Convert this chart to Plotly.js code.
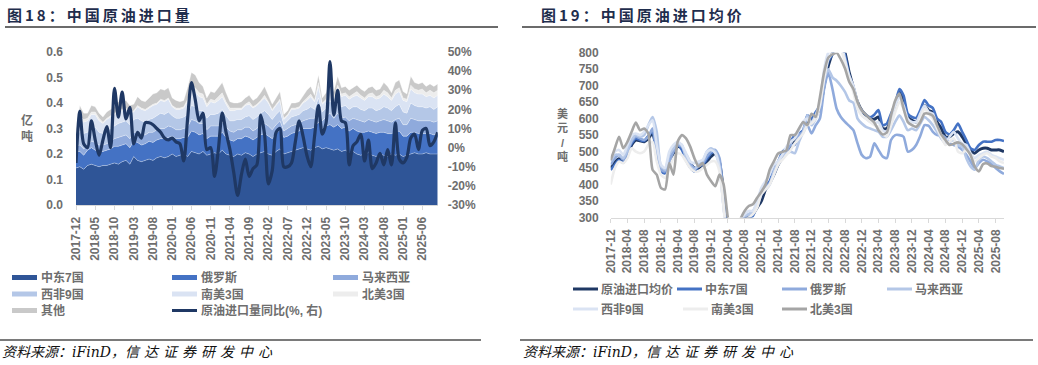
<!DOCTYPE html>
<html><head><meta charset="utf-8">
<script src="https://cdn.plot.ly/plotly-3.0.1.min.js"></script>
<style>html,body{margin:0;padding:0;background:#fff;}#chart{width:1038px;height:365px;}</style>
</head><body><div id="chart"></div>
<script>
const months = ['2017-12',
'2018-01','2018-02','2018-03','2018-04','2018-05','2018-06','2018-07','2018-08','2018-09','2018-10','2018-11','2018-12',
'2019-01','2019-02','2019-03','2019-04','2019-05','2019-06','2019-07','2019-08','2019-09','2019-10','2019-11','2019-12',
'2020-01','2020-02','2020-03','2020-04','2020-05','2020-06','2020-07','2020-08','2020-09','2020-10','2020-11','2020-12',
'2021-01','2021-02','2021-03','2021-04','2021-05','2021-06','2021-07','2021-08','2021-09','2021-10','2021-11','2021-12',
'2022-01','2022-02','2022-03','2022-04','2022-05','2022-06','2022-07','2022-08','2022-09','2022-10','2022-11','2022-12',
'2023-01','2023-02','2023-03','2023-04','2023-05','2023-06','2023-07','2023-08','2023-09','2023-10','2023-11','2023-12',
'2024-01','2024-02','2024-03','2024-04','2024-05','2024-06','2024-07','2024-08','2024-09','2024-10','2024-11','2024-12',
'2025-01','2025-02','2025-03','2025-04','2025-05','2025-06','2025-07','2025-08','2025-09','2025-10'];

const leftTicks = ['2017-12','2018-05','2018-10','2019-03','2019-08','2020-01','2020-06','2020-11','2021-04','2021-09','2022-02','2022-07','2022-12','2023-05','2023-10','2024-03','2024-08','2025-01','2025-06'];
const rightTicks = ['2017-12','2018-04','2018-08','2018-12','2019-04','2019-08','2019-12','2020-04','2020-08','2020-12','2021-04','2021-08','2021-12','2022-04','2022-08','2022-12','2023-04','2023-08','2023-12','2024-04','2024-08','2024-12','2025-04','2025-08'];

// ---- Figure 18: import volume (亿吨), stacked by origin ----
const volMiddleEast = [0.145,0.15,0.14,0.155,0.16,0.155,0.15,0.155,0.155,0.16,
0.165,0.16,0.17,0.175,0.16,0.19,0.175,0.17,0.175,0.18,
0.175,0.185,0.19,0.185,0.19,0.2,0.19,0.195,0.2,0.19,
0.21,0.205,0.2,0.21,0.195,0.2,0.205,0.2,0.215,0.2,
0.195,0.19,0.2,0.195,0.205,0.2,0.19,0.2,0.205,0.21,
0.2,0.195,0.21,0.22,0.2,0.205,0.21,0.215,0.22,0.225,
0.22,0.215,0.225,0.23,0.22,0.225,0.22,0.215,0.22,0.21,
0.215,0.205,0.21,0.2,0.195,0.2,0.205,0.195,0.19,0.2,
0.195,0.19,0.2,0.195,0.2,0.19,0.195,0.2,0.205,0.2,
0.2,0.205,0.2,0.2,0.2];
const volRussia = [0.065,0.06,0.055,0.06,0.065,0.06,0.06,0.055,0.06,0.06,
0.065,0.07,0.065,0.065,0.065,0.06,0.07,0.065,0.065,0.07,
0.07,0.07,0.07,0.075,0.075,0.07,0.07,0.065,0.065,0.075,
0.08,0.08,0.075,0.07,0.065,0.07,0.065,0.07,0.07,0.065,
0.06,0.06,0.06,0.065,0.065,0.065,0.065,0.065,0.07,0.07,
0.07,0.065,0.07,0.075,0.065,0.065,0.07,0.07,0.07,0.075,
0.08,0.085,0.08,0.095,0.08,0.085,0.095,0.09,0.095,0.09,
0.09,0.085,0.09,0.09,0.09,0.085,0.085,0.09,0.09,0.085,
0.09,0.09,0.08,0.09,0.09,0.08,0.075,0.085,0.08,0.08,
0.08,0.075,0.08,0.075,0.08];
const volMalaysia = [0.02,0.025,0.025,0.02,0.025,0.03,0.025,0.025,0.025,0.03,
0.03,0.035,0.035,0.035,0.035,0.035,0.04,0.04,0.035,0.035,
0.04,0.04,0.04,0.04,0.045,0.035,0.035,0.035,0.035,0.04,
0.045,0.045,0.045,0.04,0.035,0.04,0.04,0.04,0.04,0.04,
0.035,0.035,0.035,0.035,0.035,0.04,0.035,0.035,0.04,0.04,
0.04,0.035,0.035,0.035,0.025,0.03,0.03,0.03,0.03,0.03,
0.035,0.04,0.035,0.045,0.03,0.035,0.045,0.035,0.045,0.04,
0.04,0.04,0.04,0.045,0.045,0.04,0.045,0.045,0.045,0.045,
0.05,0.05,0.045,0.05,0.05,0.045,0.045,0.055,0.05,0.05,
0.05,0.05,0.05,0.05,0.05];
const volWestAfrica = [0.025,0.055,0.06,0.05,0.055,0.06,0.05,0.045,0.05,0.05,
0.05,0.055,0.055,0.055,0.055,0.05,0.055,0.055,0.05,0.05,
0.055,0.055,0.06,0.055,0.055,0.045,0.045,0.045,0.045,0.05,
0.055,0.055,0.05,0.05,0.045,0.045,0.045,0.05,0.05,0.045,
0.04,0.045,0.04,0.04,0.04,0.045,0.045,0.045,0.045,0.05,
0.045,0.04,0.04,0.04,0.025,0.03,0.035,0.035,0.035,0.04,
0.04,0.045,0.035,0.05,0.035,0.035,0.05,0.04,0.05,0.045,
0.045,0.045,0.045,0.05,0.045,0.045,0.045,0.05,0.045,0.045,
0.05,0.05,0.045,0.05,0.055,0.05,0.045,0.06,0.055,0.055,
0.055,0.05,0.055,0.05,0.055];
const volSouthAmerica = [0.015,0.05,0.045,0.045,0.05,0.05,0.045,0.04,0.045,0.045,
0.045,0.05,0.045,0.045,0.045,0.03,0.045,0.045,0.045,0.045,
0.05,0.045,0.05,0.05,0.05,0.035,0.035,0.035,0.035,0.05,
0.06,0.06,0.055,0.05,0.045,0.05,0.045,0.05,0.05,0.045,
0.04,0.04,0.04,0.04,0.045,0.045,0.045,0.045,0.045,0.05,
0.045,0.035,0.035,0.04,0.02,0.02,0.03,0.025,0.025,0.03,
0.035,0.04,0.03,0.045,0.03,0.03,0.045,0.035,0.045,0.04,
0.04,0.04,0.04,0.045,0.045,0.04,0.045,0.045,0.045,0.045,
0.05,0.045,0.04,0.05,0.05,0.045,0.045,0.055,0.05,0.05,
0.05,0.045,0.045,0.045,0.045];
const volNorthAmerica = [0.005,0.01,0.01,0.01,0.01,0.01,0.01,0.005,0.005,0.005,
0.005,0.005,0.005,0.005,0.005,0.005,0.005,0.005,0.005,0.005,
0.005,0.005,0.005,0.005,0.005,0.005,0.005,0.005,0.005,0.01,
0.015,0.015,0.015,0.015,0.01,0.01,0.01,0.015,0.015,0.01,
0.01,0.01,0.005,0.005,0.005,0.01,0.005,0.005,0.005,0.01,
0.005,0.005,0.005,0.005,0.005,0.005,0.005,0.005,0.005,0.005,
0.01,0.01,0.005,0.015,0.005,0.005,0.015,0.005,0.015,0.01,
0.01,0.01,0.01,0.015,0.01,0.01,0.01,0.015,0.01,0.01,
0.015,0.015,0.01,0.015,0.015,0.01,0.01,0.015,0.015,0.015,
0.02,0.015,0.02,0.02,0.02];
const volOther = [0.005,0.04,0.025,0.02,0.025,0.02,0.02,0.02,0.025,0.025,
0.025,0.03,0.03,0.03,0.025,0.025,0.035,0.03,0.03,0.035,
0.04,0.04,0.04,0.04,0.04,0.03,0.03,0.025,0.025,0.045,
0.055,0.05,0.04,0.03,0.025,0.03,0.03,0.035,0.04,0.035,
0.025,0.02,0.02,0.025,0.025,0.025,0.025,0.025,0.03,0.035,
0.025,0.02,0.025,0.03,0.015,0.015,0.02,0.02,0.02,0.025,
0.03,0.03,0.02,0.03,0.02,0.025,0.03,0.025,0.035,0.025,
0.025,0.025,0.025,0.025,0.025,0.025,0.025,0.025,0.025,0.025,
0.03,0.025,0.02,0.03,0.03,0.025,0.02,0.035,0.025,0.025,
0.025,0.025,0.025,0.025,0.025];
const volYoY = [-8,19,2,0,14,4,-4,4,11,0,
31,16,29,15,21,2,8,5,13,13,
12,10,8,5,4,5,3,2,-7,15,
34,25,14,18,-1,0,-15,-1,18,8,
-1,-13,-25,-14,-6,-15,-11,-9,17,7,
-19,-12,8,10,-10,-10,-8,3,14,6,
-4,-10,6,22,7,13,45,17,30,14,
13,-9,1,3,7,-7,4,-11,-8,-3,
-9,-1,-9,13,-6,-8,-5,5,7,-1,
9,10,1,3,8];

// ---- Figure 19: average import price (美元/吨) ----
const priceAvg = [450,468,478,470,492,520,535,533,530,540,
556,500,448,436,465,495,515,512,490,465,
450,450,458,470,485,495,468,375,265,225,
235,280,298,300,310,330,350,385,405,430,
460,480,495,510,530,545,560,585,590,610,
630,700,760,800,840,835,800,740,695,650,
625,610,600,598,605,570,570,600,640,680,
655,605,595,590,612,640,625,620,590,570,
545,545,555,560,545,525,505,495,505,510,
510,505,505,505,500];
const priceMiddleEast = [444,460,474,466,499,525,540,535,532,548,
560,480,440,434,470,505,520,505,475,452,
440,455,460,478,495,500,470,360,250,220,
235,270,290,295,305,340,378,395,410,450,
469,499,510,530,550,555,565,610,600,620,
641,715,775,795,830,820,792,730,695,645,
625,612,604,612,626,580,585,615,645,690,
670,615,605,602,626,656,640,632,600,590,
560,552,565,585,560,535,510,505,520,530,
530,530,535,535,532];
const priceRussia = [460,480,490,475,500,530,545,540,535,545,
570,500,445,440,470,500,520,515,490,465,
450,455,465,485,500,505,480,350,240,220,
240,280,300,310,315,335,370,390,405,430,
460,480,500,520,520,550,560,580,555,580,
600,690,740,690,630,605,590,578,565,525,
490,480,485,525,505,485,480,535,550,550,
545,500,505,520,548,580,578,560,550,550,
542,525,520,515,505,490,470,450,465,475,
470,462,450,440,432];
const priceMalaysia = [470,490,490,480,505,535,550,545,550,580,
605,560,455,445,490,510,525,520,480,455,
445,460,470,500,510,500,455,330,230,210,
230,275,305,310,320,345,380,385,400,440,
470,490,495,500,495,530,560,610,580,600,
640,720,750,725,715,700,681,655,648,600,
585,575,570,565,560,545,545,565,590,610,
590,565,570,565,585,605,595,580,560,540,
525,530,535,520,515,480,455,445,475,485,
480,470,460,455,450];
const priceWestAfrica = [480,500,505,490,520,550,555,550,560,580,
595,520,460,450,500,520,530,520,495,470,
465,470,475,500,505,495,450,330,230,200,
240,290,310,320,320,350,390,410,430,460,
470,490,515,530,540,565,590,600,590,610,
650,750,800,810,840,830,780,730,700,650,
610,600,590,585,590,565,560,600,640,665,
640,600,590,590,615,640,620,615,575,545,
530,545,560,540,525,520,495,480,490,495,
500,490,485,480,475];
const priceSouthAmerica = [400,450,470,465,480,510,500,495,500,520,
530,470,430,420,450,480,495,490,470,450,
440,440,450,460,470,470,440,330,210,190,
220,270,290,300,310,330,370,385,400,430,
460,475,490,505,525,540,555,580,585,600,
640,720,780,800,820,810,770,720,680,630,
610,600,590,580,575,555,545,580,620,650,
630,590,580,575,600,630,615,600,570,545,
520,530,540,500,495,505,490,470,480,490,
495,485,480,470,465];
const priceNorthAmerica = [474,510,545,510,530,560,588,565,570,555,
445,430,390,385,465,430,530,550,540,515,
480,455,465,430,410,395,430,400,300,250,
260,295,320,335,340,360,378,400,445,470,
494,499,504,550,550,570,590,580,615,605,
665,740,785,795,800,780,752,712,690,650,
625,612,600,588,565,552,558,610,655,676,
630,590,580,575,590,615,615,608,580,552,
535,520,524,528,522,508,490,455,440,462,
464,456,454,450,448];

const volNames = ['中东7国','俄罗斯','马来西亚','西非9国','南美3国','北美3国','其他'];
const yoyName = '原油进口量同比(%, 右)';
const priceNames = ['原油进口均价','中东7国','俄罗斯','马来西亚','西非9国','南美3国','北美3国'];
const leftYTicks = [0,0.1,0.2,0.3,0.4,0.5,0.6];
const leftYText = ['0.0','0.1','0.2','0.3','0.4','0.5','0.6'];
const rightPctTicks = [-30,-20,-10,0,10,20,30,40,50];
const rightPctText = ['-30%','-20%','-10%','0%','10%','20%','30%','40%','50%'];
const priceTicks = [300,350,400,450,500,550,600,650,700,750,800];
const priceText = ['300','350','400','450','500','550','600','650','700','750','800'];

// ---------- styling ----------
const W = 1038, H = 365;
const X = p => p / W, Y = p => 1 - p / H;
const volColors = ['#2F5597','#4472C4','#8FAADC','#B4C7E7','#DAE3F3','#EDEDED','#C9C9C9'];
const yoyColor = '#1F3864';
const priceColors = ['#1F3864','#4472C4','#8FAADC','#B4C7E7','#DAE3F3','#EDEDED','#A5A5A5'];
const priceWidths = [3,2.6,2.6,2.6,2.6,2.6,2.6];
const tickFont = {family:'Liberation Sans, Arial, Noto Sans CJK SC, sans-serif', size:12, color:'#6E6E6E', weight:'bold'};
const labFont = {family:'Liberation Sans, Arial, Noto Sans CJK SC, sans-serif', size:12, color:'#6E6E6E', weight:'bold'};

const volSeries = [volMiddleEast, volRussia, volMalaysia, volWestAfrica, volSouthAmerica, volNorthAmerica, volOther];
const priceSeries = [priceAvg, priceMiddleEast, priceRussia, priceMalaysia, priceWestAfrica, priceSouthAmerica, priceNorthAmerica];

const traces = [];
volSeries.forEach((s, k) => traces.push({
  type:'scatter', mode:'lines', x: months, y: s, name: volNames[k],
  stackgroup:'vol', fillcolor: volColors[k],
  line:{color:'rgba(255,255,255,0.55)', width:0.6},
  xaxis:'x', yaxis:'y', hoverinfo:'skip'
}));
traces.push({type:'scatter', mode:'lines', x: months, y: volYoY, name: yoyName,
  line:{color: yoyColor, width:3.2, shape:'spline', smoothing:0.8}, xaxis:'x', yaxis:'y2', hoverinfo:'skip'});
priceSeries.forEach((s, k) => traces.push({
  type:'scatter', mode:'lines', x: months, y: s, name: priceNames[k],
  line:{color: priceColors[k], width: priceWidths[k], shape:'spline', smoothing:0.6},
  xaxis:'x3', yaxis:'y3', hoverinfo:'skip'
}));

const annotations = [];
const shapes = [];
function txt(text, x, y, font, extra) {
  annotations.push(Object.assign({text, x: X(x), y: Y(y), xref:'paper', yref:'paper',
    xanchor:'left', yanchor:'middle', showarrow:false, font}, extra || {}));
}
const titleFont = {family:'Noto Sans CJK SC, sans-serif', size:15, color:'#1F2D4D', weight:'bold'};
txt('<span style="letter-spacing:3px">图18：中国原油进口量</span>', 5, 15, titleFont);
txt('<span style="letter-spacing:3px">图19：中国原油进口均价</span>', 539, 15, titleFont);
shapes.push({type:'line', xref:'paper', yref:'paper', x0:X(5), x1:X(498), y0:Y(27), y1:Y(27), line:{color:'#6B6B6B', width:2}});
shapes.push({type:'line', xref:'paper', yref:'paper', x0:X(522), x1:X(1036), y0:Y(27), y1:Y(27), line:{color:'#6B6B6B', width:2}});
shapes.push({type:'line', xref:'paper', yref:'paper', x0:X(0), x1:X(481), y0:Y(340), y1:Y(340), line:{color:'#7A7A7A', width:2}});
shapes.push({type:'line', xref:'paper', yref:'paper', x0:X(520), x1:X(1033), y0:Y(340), y1:Y(340), line:{color:'#7A7A7A', width:2}});

const footFont = {family:'DejaVu Serif, Noto Sans CJK SC, serif', size:14, color:'#111', style:'italic'};
const footText = '资料来源：iFinD，<span style="letter-spacing:5px">信达证券研发中心</span>';
txt(footText, 0, 352, footFont);
txt(footText, 521, 352, footFont);

// axis unit labels
annotations.push({text:'亿<br>吨', x:X(27), y:Y(128), xref:'paper', yref:'paper', xanchor:'center', yanchor:'middle', showarrow:false, font:labFont});
annotations.push({text:'美<br>元<br>/<br>吨', x:X(562), y:Y(135), xref:'paper', yref:'paper', xanchor:'center', yanchor:'middle', showarrow:false, font:Object.assign({}, labFont, {size:11})});

// left legend
const leftLegPos = [[12,277.5],[172,277.5],[333,277.5],[12,294],[172,294],[333,294],[12,310.5],[172,310.5]];
volNames.forEach((n, k) => {
  const [lx, ly] = leftLegPos[k];
  shapes.push({type:'rect', xref:'paper', yref:'paper', x0:X(lx), x1:X(lx+25), y0:Y(ly+2.5), y1:Y(ly-2.5), fillcolor: volColors[k], line:{width:0}});
  txt(n, lx+27, ly, labFont);
});
{
  const [lx, ly] = leftLegPos[7];
  shapes.push({type:'line', xref:'paper', yref:'paper', x0:X(lx), x1:X(lx+25), y0:Y(ly), y1:Y(ly), line:{color: yoyColor, width:3}});
  txt(yoyName, lx+27, ly, labFont);
}
// right legend
const rightLegPos = [[573,289],[677,289],[782,289],[887,289],[573,309],[683,309],[782,309]];
priceNames.forEach((n, k) => {
  const [lx, ly] = rightLegPos[k];
  shapes.push({type:'line', xref:'paper', yref:'paper', x0:X(lx), x1:X(lx+25), y0:Y(ly), y1:Y(ly), line:{color: priceColors[k], width:3}});
  txt(n, lx+26, ly, labFont);
});

const xBase = {type:'category', showgrid:false, zeroline:false, showline:true, linecolor:'#D9D9D9', linewidth:1,
  ticks:'outside', ticklen:4, tickcolor:'#D9D9D9', tickangle:-90, tickfont: tickFont, tickmode:'array', ticklabelstandoff:2, fixedrange:true};
const yBase = {showgrid:false, zeroline:false, showline:false, ticks:'', tickfont: tickFont, tickmode:'array', fixedrange:true};

const layout = {
  width: W, height: H, margin:{l:0, r:0, t:0, b:0}, paper_bgcolor:'#fff', plot_bgcolor:'rgba(0,0,0,0)',
  showlegend:false, font:{family:'Liberation Sans, Noto Sans CJK SC, sans-serif'},
  xaxis: Object.assign({}, xBase, {domain:[X(76), X(437.7)], range:[0, months.length-1], anchor:'y', tickvals: leftTicks, ticktext: leftTicks}),
  yaxis: Object.assign({}, yBase, {domain:[Y(205), Y(52)], range:[0, 0.6], anchor:'x', tickvals: leftYTicks, ticktext: leftYText, ticklabelstandoff:12}),
  yaxis2: Object.assign({}, yBase, {overlaying:'y', side:'right', anchor:'x', range:[-30, 50], tickvals: rightPctTicks, ticktext: rightPctText, ticklabelstandoff:9}),
  xaxis3: Object.assign({}, xBase, {domain:[X(610.7), X(1004)], range:[0, months.length-1], anchor:'y3', tickvals: rightTicks, ticktext: rightTicks}),
  yaxis3: Object.assign({}, yBase, {domain:[Y(217.5), Y(52.7)], range:[300, 800], anchor:'x3', tickvals: priceTicks, ticktext: priceText, ticklabelstandoff:11}),
  annotations, shapes
};

Plotly.newPlot('chart', traces, layout, {staticPlot:true, displayModeBar:false});
</script></body></html>
